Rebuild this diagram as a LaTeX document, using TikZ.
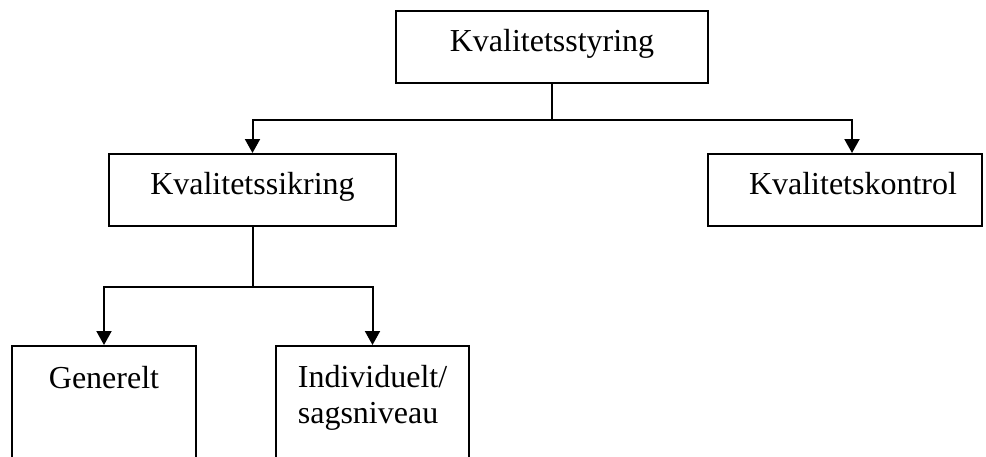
\documentclass[tikz,border=0pt]{standalone}
\usepackage{fontspec}
\setmainfont{Liberation Serif}
\usetikzlibrary{arrows.meta}

\begin{document}
\begin{tikzpicture}[x=1pt,y=-1pt,
  box/.style={draw, line width=2pt, inner sep=0pt, text height=40pt, text depth=32pt, font=\fontsize{32}{36}\selectfont},
  tallbox/.style={box, text height=42pt, text depth=120pt, align=left},
  link/.style={line width=2pt},
  arrow/.style={link, -{Triangle[width=15pt,length=14pt]}}]
\useasboundingbox (0,0) rectangle (986,456);
\clip (0,0) rectangle (986,456);

%boites
\node[box, minimum width=312pt, anchor=north] (styring) at (552,10) {Kvalitetsstyring};
\node[box, minimum width=287pt, anchor=north] (sikring) at (252.5,153) {Kvalitetssikring};
\node[box, minimum width=274pt, anchor=north] (kontrol) at (845,153) {\hspace*{16pt}Kvalitetskontrol};
\node[tallbox, minimum width=184pt, anchor=north] (generelt) at (104,345) {Generelt};
\node[tallbox, text height=77pt, text depth=85pt, minimum width=193pt, anchor=north] (individuelt) at (372.5,345) {Individuelt/\\sagsniveau};
%fin

%liaisons
\draw[link] (styring.south) -- ++(0,36) coordinate (split styring);
\draw[arrow] (split styring) -| (sikring.north);
\draw[arrow] (split styring) -| ([xshift=7pt]kontrol.north);
\draw[link] (sikring.south) -- ++(0,60) coordinate (split sikring);
\draw[arrow] (split sikring) -| (generelt.north);
\draw[arrow] (split sikring) -| (individuelt.north);
%fin
\end{tikzpicture}
\end{document}
